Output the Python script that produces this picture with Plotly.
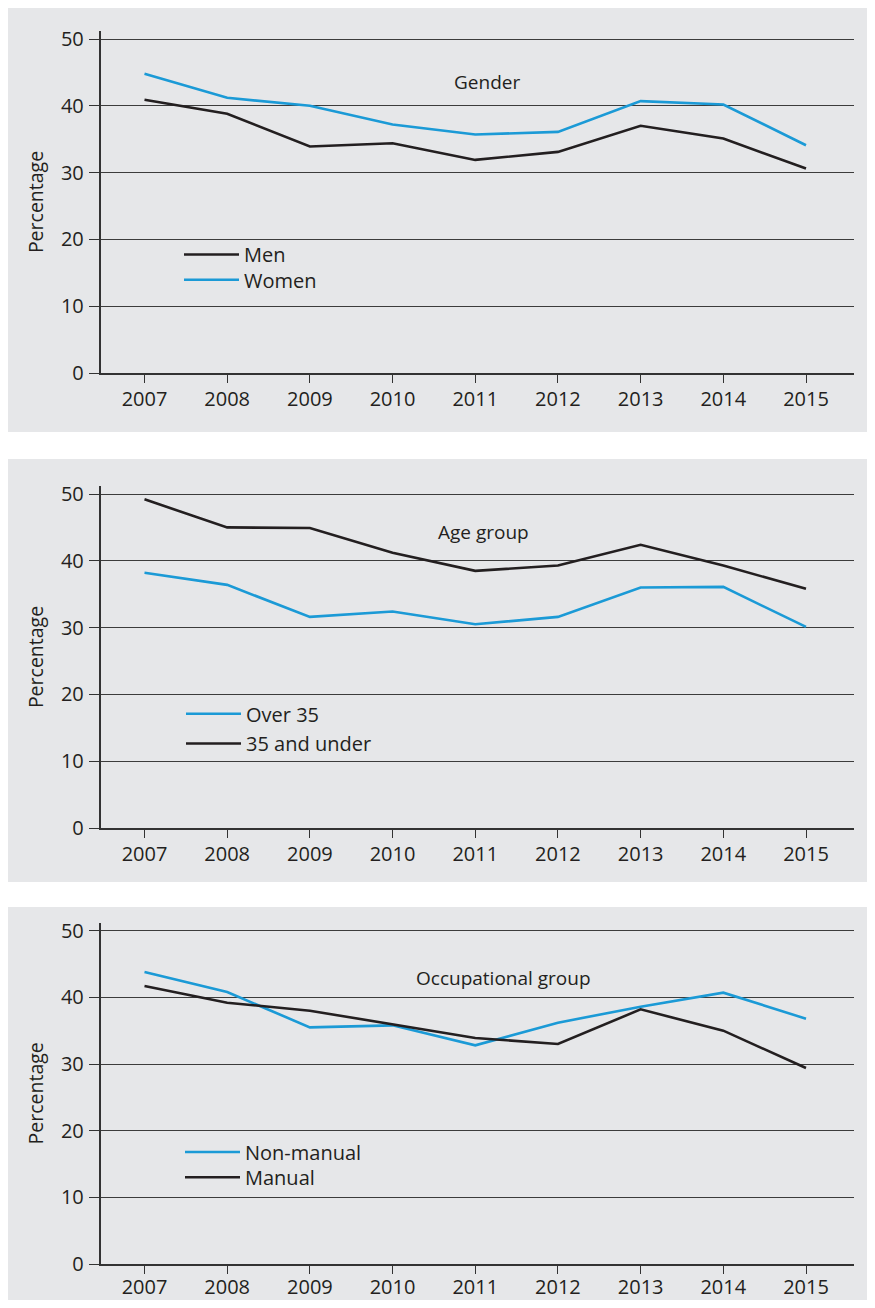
import plotly.graph_objects as go

years = [2007, 2008, 2009, 2010, 2011, 2012, 2013, 2014, 2015]

# Panel 1: Gender
men = [40.9, 38.8, 33.9, 34.4, 31.9, 33.1, 37.0, 35.1, 30.6]
women = [44.8, 41.2, 40.0, 37.2, 35.7, 36.1, 40.7, 40.2, 34.1]

# Panel 2: Age group
over35 = [38.2, 36.4, 31.6, 32.4, 30.5, 31.6, 36.0, 36.1, 30.1]
under35 = [49.2, 45.0, 44.9, 41.2, 38.5, 39.3, 42.4, 39.3, 35.8]

# Panel 3: Occupational group
nonmanual = [43.8, 40.8, 35.5, 35.8, 32.8, 36.2, 38.6, 40.7, 36.8]
manual = [41.7, 39.2, 38.0, 36.0, 33.9, 33.0, 38.2, 35.0, 29.4]

panel_titles = ["Gender", "Age group", "Occupational group"]
y_ticks = [0, 10, 20, 30, 40, 50]

BLUE = "#1b9ad6"
BLACK = "#231f20"
BG = "#e6e7e9"
FONT = "Open Sans"

# The page body has an 8px margin; figure sized to fit the 875x1308 window.
OFF = 8
W, H = 875 - 2 * OFF, 1308 - 2 * OFF


def fx(px):
    return (px - OFF) / W


def fy(py):
    return 1 - (py - OFF) / H


panels = [
    dict(series=[("Men", men, BLACK), ("Women", women, BLUE)],
         y0=373.0, y50=39.0, bg=(3, 6, 875, 432),
         title_px=(486.7, 81.7), leg_x=185, leg_y=[255, 280.3], xlab_standoff=-1),
    dict(series=[("Over 35", over35, BLUE), ("35 and under", under35, BLACK)],
         y0=828.0, y50=494.0, bg=(4, 459, 875, 882),
         title_px=(483.0, 532.3), leg_x=187, leg_y=[714.3, 744], xlab_standoff=-1),
    dict(series=[("Non-manual", nonmanual, BLUE), ("Manual", manual, BLACK)],
         y0=1264.0, y50=930.7, bg=(4, 907, 875, 1308),
         title_px=(503.0, 978.3), leg_x=186, leg_y=[1152.5, 1177.8], xlab_standoff=-4),
]

x_left_px, x_right_px = 100.5, 854.0
x2007_px, x2015_px = 144.5, 806.0
px_per_year = (x2015_px - x2007_px) / 8
x_range = [2007 - (x2007_px - x_left_px) / px_per_year,
           2015 + (x_right_px - x2015_px) / px_per_year]

fig = go.Figure()
shapes = []
annotations = []
layout_extra = {}
leg_idx = 0

for i, p in enumerate(panels):
    n = i + 1
    xa = "x" if n == 1 else f"x{n}"
    ya = "y" if n == 1 else f"y{n}"
    ppu = (p["y0"] - p["y50"]) / 50.0
    top_px = p["y50"] - 8
    ytop = 50 + 8 / ppu
    for k, (name, vals, col) in enumerate(p["series"]):
        leg_idx += 1
        leg = "legend" if leg_idx == 1 else f"legend{leg_idx}"
        fig.add_trace(go.Scatter(x=years, y=vals, mode="lines", name=name,
                                 line=dict(color=col, width=2.6),
                                 xaxis=xa, yaxis=ya, legend=leg))
        layout_extra[leg] = dict(
            x=fx(p["leg_x"] - 6), y=fy(p["leg_y"][k] - 20),
            xanchor="left", yanchor="top",
            bgcolor="rgba(0,0,0,0)", borderwidth=0, itemwidth=55,
            font=dict(family=FONT, size=20, color=BLACK),
            itemclick=False, itemdoubleclick=False,
        )
    xkey = "xaxis" if n == 1 else f"xaxis{n}"
    ykey = "yaxis" if n == 1 else f"yaxis{n}"
    layout_extra[xkey] = dict(
        domain=[fx(x_left_px), fx(x_right_px)], range=x_range, anchor=ya,
        tickmode="array", tickvals=years, ticktext=[str(y) for y in years],
        ticks="outside", ticklen=8, tickwidth=1.2, tickcolor="#333333",
        showline=True, linecolor="#333333", linewidth=1.5,
        showgrid=False, zeroline=False, automargin=False,
        tickfont=dict(family=FONT, size=20, color=BLACK),
        ticklabelstandoff=p["xlab_standoff"],
        fixedrange=True,
    )
    layout_extra[ykey] = dict(
        domain=[fy(p["y0"]), fy(top_px)], range=[0, ytop], anchor=xa,
        tickmode="array", tickvals=y_ticks,
        ticks="outside", ticklen=10, tickwidth=1.2, tickcolor="#333333",
        showline=True, linecolor="#333333", linewidth=1.5,
        showgrid=True, gridcolor="#3c3c3c", gridwidth=1,
        zeroline=False, automargin=False,
        tickfont=dict(family=FONT, size=20, color=BLACK), ticklabelstandoff=1,
        title=dict(text="Percentage", font=dict(family=FONT, size=19.5, color=BLACK), standoff=12),
        fixedrange=True,
    )
    x0, y0, x1, y1 = p["bg"]
    shapes.append(dict(type="rect", xref="paper", yref="paper",
                       x0=max(fx(x0), 0), x1=min(fx(x1), 1),
                       y0=max(fy(y1), 0), y1=min(fy(y0), 1),
                       fillcolor=BG, line=dict(width=0), layer="below"))
    tx = 2007 + (p["title_px"][0] - x2007_px) / px_per_year
    ty = (p["y0"] - p["title_px"][1]) / ppu
    annotations.append(dict(text=panel_titles[i], x=tx, y=ty,
                            xref=xa, yref=ya, showarrow=False,
                            font=dict(family=FONT, size=19, color=BLACK)))

fig.update_layout(
    width=W, height=H, margin=dict(l=0, r=0, t=0, b=0, autoexpand=False),
    paper_bgcolor="white", plot_bgcolor="rgba(0,0,0,0)",
    shapes=shapes, annotations=annotations, showlegend=True,
    **layout_extra,
)

fig.write_html("out.html")
